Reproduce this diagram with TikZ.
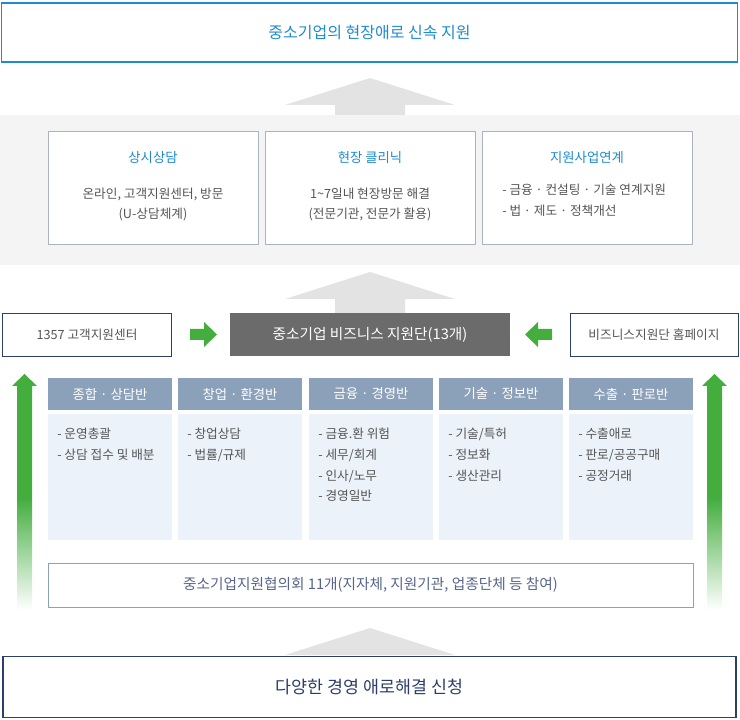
\documentclass[tikz,border=0pt]{standalone}
\usepackage{fontspec}
\setmainfont{Noto Sans CJK KR}
\usetikzlibrary{positioning}
\definecolor{topblue}{HTML}{1E8BCF}
\definecolor{navy}{HTML}{2C3E6B}
\definecolor{boxgray}{HTML}{A9B4C0}
\definecolor{headblue}{HTML}{8BA0B9}
\definecolor{bodyblue}{HTML}{EBF2FA}
\definecolor{darkbox}{HTML}{6B6B6B}
\definecolor{txtgray}{HTML}{555555}
\definecolor{arrgreen}{HTML}{43AD3E}
\definecolor{bandgray}{HTML}{F4F4F4}
\newcommand{\fsz}[2]{\fontsize{#1}{#2}\selectfont}
\tikzset{
  infobox/.style={draw=boxgray, fill=white, minimum width=157.5pt, minimum height=84.75pt},
  sidebox/.style={draw=navy, fill=white, minimum width=126.75pt, minimum height=32.25pt, font=\fsz{9.5}{12}, text=txtgray},
  headbox/.style={fill=headblue, text=white, minimum width=93pt, minimum height=24pt, font=\fsz{10}{12}},
  bodybox/.style={fill=bodyblue, minimum width=93pt, minimum height=94.5pt},
  itemlist/.style={align=left, font=\fsz{9.5}{15.5}, text=txtgray, anchor=north west, inner sep=0pt},
  bigarrow/.style={fill=gray!22},
  greenarrow/.style={fill=arrgreen}
}
\newcommand{\uparr}[3]{% x, tip y, bottom y
  \fill[bigarrow] (#1-35,#3) -- (#1-35,#2+27) -- (#1-85,#2+27) -- (#1,#2) -- (#1+85,#2+27) -- (#1+35,#2+27) -- (#1+35,#3) -- cycle;}
\begin{document}
\begin{tikzpicture}[x=0.75pt, y=-0.75pt]
\useasboundingbox (0,0) rectangle (740,720);
% gray band and upward arrows
\fill[bandgray] (0,115) rectangle (740,265);
\uparr{370}{78}{115}
\uparr{370}{272}{313}
\uparr{370}{628}{655}
% goal
\node[draw=topblue, thick, minimum width=552pt, minimum height=44.25pt, text=topblue, font=\fsz{12}{14}] (goal) at (369.5,32.5) {중소기업의 현장애로 신속 지원};
% service boxes
\node[infobox] (svc1) at (153,187.5) {};
\node[infobox] (svc2) at (370,187.5) {};
\node[infobox] (svc3) at (587,187.5) {};
\node[text=topblue, font=\fsz{10}{12}] at (153,158) {상시상담};
\node[text=topblue, font=\fsz{10}{12}] at (370,158) {현장 클리닉};
\node[text=topblue, font=\fsz{10}{12}] at (587,158) {지원사업연계};
\node[align=center, font=\fsz{9.5}{15.5}, text=txtgray] at (153,204.5) {온라인, 고객지원센터, 방문\\(U-상담체계)};
\node[align=center, font=\fsz{9.5}{15.5}, text=txtgray] at (370,204.5) {1\textasciitilde7일내 현장방문 해결\\(전문기관, 전문가 활용)};
\node[itemlist] at (502,184) {- 금융 · 컨설팅 · 기술 연계지원\\- 법 · 제도 · 정책개선};
% middle row
\node[sidebox] (center1357) at (87,334.5) {1357 고객지원센터};
\node[fill=darkbox, text=white, minimum width=210pt, minimum height=32.25pt, font=\fsz{11}{13}] (team) at (370,334.5) {중소기업 비즈니스 지원단(13개)};
\node[sidebox, minimum width=126pt] (homepage) at (654,334.5) {비즈니스지원단 홈페이지};
\fill[greenarrow] (190,329) -- (204,329) -- (204,322) -- (217,334.5) -- (204,347) -- (204,340) -- (190,340) -- cycle;
\fill[greenarrow] (552,329) -- (538,329) -- (538,322) -- (525,334.5) -- (538,347) -- (538,340) -- (552,340) -- cycle;
% teams
\foreach \x/\head/\items [count=\i] in {110/종합 · 상담반/{- 운영총괄\\- 상담 접수 및 배분},
    240/창업 · 환경반/{- 창업상담\\- 법률/규제},
    371/금융 · 경영반/{- 금융.환 위험\\- 세무/회계\\- 인사/노무\\- 경영일반},
    501/기술 · 정보반/{- 기술/특허\\- 정보화\\- 생산관리},
    631/수출 · 판로반/{- 수출애로\\- 판로/공공구매\\- 공정거래}}{
  \node[headbox] (head\i) at (\x,394) {\head};
  \node[bodybox] (body\i) at (\x,477) {};
  \node[itemlist] at (\x-53,428) {\items};
}
% council
\node[draw=headblue, fill=white, minimum width=483.75pt, minimum height=33pt, text=navy!80, font=\fsz{11}{13}] (council) at (370.5,585) {중소기업지원협의회 11개(지자체, 지원기관, 업종단체 등 참여)};
% side green arrows
\shade[bottom color=white, top color=arrgreen, middle color=arrgreen] (17,610) rectangle (32,385);
\fill[greenarrow] (12,386) -- (24.5,374) -- (37,386) -- cycle;
\shade[bottom color=white, top color=arrgreen, middle color=arrgreen] (707,610) rectangle (722,385);
\fill[greenarrow] (702,386) -- (714.5,374) -- (727,386) -- cycle;
% request
\node[draw=navy, very thick, minimum width=550pt, minimum height=46pt, text=navy, font=\fsz{13}{15}] (request) at (369.5,687) {다양한 경영 애로해결 신청};
\end{tikzpicture}
\end{document}
